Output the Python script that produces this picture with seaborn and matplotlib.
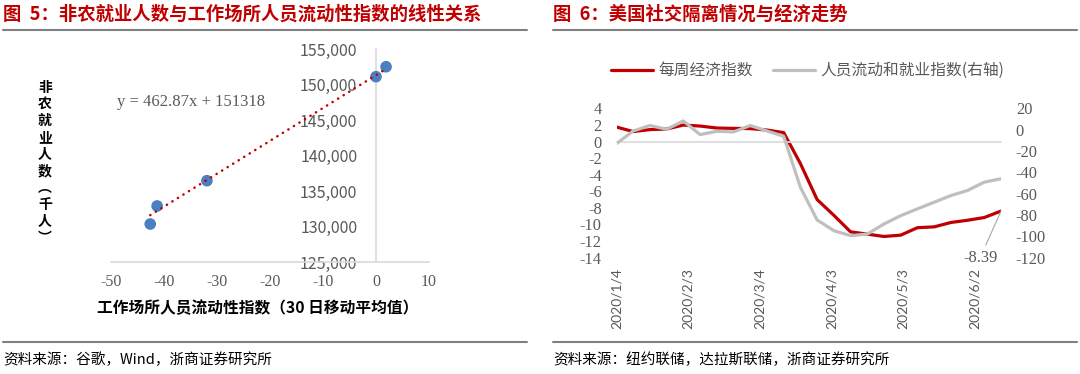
import numpy as np
import pandas as pd
import matplotlib
matplotlib.use("Agg")
import matplotlib.pyplot as plt
import matplotlib.dates as mdates
from matplotlib.lines import Line2D
import seaborn as sns

# ---------------- data ----------------
# Left chart: workplace mobility index (30d MA) vs nonfarm payrolls (thousand)
MOBILITY_X = [1.9, 0.0, -42.6, -41.3, -31.9]
PAYROLLS_Y = [152500, 151100, 130350, 132890, 136450]
TREND_SLOPE = 462.87
TREND_INTERCEPT = 151318
X_TICKS = [-50, -40, -30, -20, -10, 0, 10]
Y_TICKS = [125000, 130000, 135000, 140000, 145000, 150000, 155000]

# Right chart: weekly economic index vs mobility & employment index
DATES = ["2020-01-04", "2020-01-11", "2020-01-18", "2020-01-25", "2020-02-01",
         "2020-02-08", "2020-02-15", "2020-02-22", "2020-02-29", "2020-03-07",
         "2020-03-14", "2020-03-21", "2020-03-28", "2020-04-04", "2020-04-11",
         "2020-04-18", "2020-04-25", "2020-05-02", "2020-05-09", "2020-05-16",
         "2020-05-23", "2020-05-30", "2020-06-06", "2020-06-13"]
WEI = [1.76, 1.21, 1.45, 1.52, 2.0, 1.88, 1.64, 1.6, 1.57, 1.4, 1.09, -2.65,
       -7.0, -8.9, -10.9, -11.18, -11.46, -11.3, -10.4, -10.3, -9.77, -9.5,
       -9.17, -8.39]
MOBILITY_EMP = [-13.0, -1.1, 4.0, 0.5, 8.3, -4.5, -1.4, -2.0, 4.0, -1.1, -6.1,
                -54.0, -84.7, -94.8, -99.5, -98.0, -88.5, -80.7, -74.3, -68.1,
                -61.8, -57.0, -49.2, -46.0]
DATE_TICKS = ["2020-01-04", "2020-02-03", "2020-03-04", "2020-04-03",
              "2020-05-03", "2020-06-02"]
DATE_TICK_LABELS = ["2020/1/4", "2020/2/3", "2020/3/4", "2020/4/3",
                    "2020/5/3", "2020/6/2"]
LEFT_TICKS = [4, 2, 0, -2, -4, -6, -8, -10, -12, -14]
RIGHT_TICKS = [20, 0, -20, -40, -60, -80, -100, -120]
LEGEND_LABELS = ["每周经济指数", "人员流动和就业指数(右轴)"]

TITLE_LEFT = "图  5：非农就业人数与工作场所人员流动性指数的线性关系"
TITLE_RIGHT = "图  6：美国社交隔离情况与经济走势"
SOURCE_LEFT = "资料来源：谷歌，Wind，浙商证券研究所"
SOURCE_RIGHT = "资料来源：纽约联储，达拉斯联储，浙商证券研究所"
YLABEL_LEFT = "非农就业人数︵千人︶"
XLABEL_LEFT = "工作场所人员流动性指数（30 日移动平均值）"

# ---------------- style ----------------
sns.set_theme(style="white")
plt.rcParams["font.family"] = ["Noto Sans CJK SC", "DejaVu Sans"]
plt.rcParams["axes.unicode_minus"] = False

RED = "#c00000"
GRAY_LINE = "#bfbfbf"
AXIS_GRAY = "#d9d9d9"
TXT_GRAY = "#595959"
SERIF = "Liberation Serif"
W, H = 1080, 374


def fx(px):
    return px / W


def fy(py):
    return 1 - py / H


fig = plt.figure(figsize=(W / 100, H / 100), dpi=100)
fig.patch.set_facecolor("white")

# titles and rules
for x0, x1, title in [(3, 527, TITLE_LEFT), (553, 1077, TITLE_RIGHT)]:
    fig.text(fx(x0), fy(14.5), title, ha="left", va="center", fontsize=13.2,
             weight="bold", color=RED)
    fig.add_artist(Line2D([fx(x0), fx(x1)], [fy(30), fy(30)], color="#808080", lw=1.5))
    fig.add_artist(Line2D([fx(x0), fx(x1)], [fy(342), fy(342)], color="#808080", lw=1.5))
fig.text(fx(3), fy(360), SOURCE_LEFT, ha="left", va="center", fontsize=10.5, color="black")
fig.text(fx(553), fy(360), SOURCE_RIGHT, ha="left", va="center", fontsize=10.5, color="black")

# ---------------- left chart ----------------
ax1 = fig.add_axes([fx(111), fy(262), (429 - 111) / W, (262 - 49) / H])
ax1.set_facecolor("white")
sns.scatterplot(x=MOBILITY_X, y=PAYROLLS_Y, ax=ax1, s=70, color="#4a7fc1",
                edgecolor="none", zorder=3)
xs = np.array([min(MOBILITY_X), max(MOBILITY_X)])
sns.lineplot(x=xs, y=TREND_SLOPE * xs + TREND_INTERCEPT, ax=ax1, color=RED,
             lw=1.8, linestyle=(0, (0.1, 2.5)), dash_capstyle="round", zorder=4)
ax1.set_xlim(-50, 10)
ax1.set_ylim(125000, 155000)
ax1.set_xticks(X_TICKS, labels=[str(v) for v in X_TICKS], fontfamily=SERIF)
ax1.set_yticks(Y_TICKS, labels=[f"{v:,}" for v in Y_TICKS], fontfamily=SERIF)
for s in ["top", "right"]:
    ax1.spines[s].set_visible(False)
ax1.spines["left"].set_position(("data", 0))
for s in ["left", "bottom"]:
    ax1.spines[s].set_color(AXIS_GRAY)
    ax1.spines[s].set_linewidth(1.2)
ax1.tick_params(axis="both", length=0, labelsize=11.5, labelcolor=TXT_GRAY)
ax1.tick_params(axis="y", pad=13.5)
ax1.tick_params(axis="x", pad=8.5)
ax1.text(-48.9, 147600, f"y = {TREND_SLOPE}x + {TREND_INTERCEPT}", fontfamily=SERIF,
         fontsize=12, color=TXT_GRAY, ha="left", va="center")
ax1.grid(False)

fig.text(fx(45), fy(163), "\n".join(list(YLABEL_LEFT)), ha="center", va="center",
         fontsize=10, weight="bold", color="black", linespacing=1.25)
fig.text(fx(258), fy(308), XLABEL_LEFT, ha="center", va="center", fontsize=11.3,
         weight="bold", color="black")

# ---------------- right chart ----------------
dates = pd.to_datetime(DATES)
ax2 = fig.add_axes([fx(616.5), fy(257.5), (1001 - 616.5) / W, (257.5 - 108.5) / H])
ax2.set_facecolor("none")
sns.lineplot(x=dates, y=WEI, ax=ax2, color=RED, lw=2.3, legend=False)
ax3 = ax2.twinx()
sns.lineplot(x=dates, y=MOBILITY_EMP, ax=ax3, color=GRAY_LINE, lw=2.3, legend=False)

ax2.set_xlim(dates[0], dates[-1])
ax2.set_ylim(-14, 4)
ax3.set_ylim(-120, 20)
ax2.set_yticks(LEFT_TICKS, labels=[str(v) for v in LEFT_TICKS], fontfamily=SERIF)
ax3.set_yticks(RIGHT_TICKS, labels=[str(v) for v in RIGHT_TICKS], fontfamily=SERIF)
ax2.set_xlabel("")
ax2.set_ylabel("")
ax3.set_ylabel("")
for a in (ax2, ax3):
    for s in ["top", "left", "right", "bottom"]:
        a.spines[s].set_visible(False)
    a.grid(False)
ax2.spines["bottom"].set_visible(True)
ax2.spines["bottom"].set_position(("data", 0))
ax2.spines["bottom"].set_color(AXIS_GRAY)
ax2.spines["bottom"].set_linewidth(1.2)

tick_nums = mdates.date2num(pd.to_datetime(DATE_TICKS))
ax2.set_xticks(tick_nums)
ax2.tick_params(axis="x", length=4, width=1.2, color=AXIS_GRAY, direction="out",
                labelbottom=False)
ax2.tick_params(axis="y", length=0, pad=10.7, labelsize=11.8, labelcolor=TXT_GRAY)
ax3.tick_params(axis="y", length=0, pad=10.7, labelsize=11.8, labelcolor=TXT_GRAY)

sec = ax2.secondary_xaxis("bottom")
sec.set_xticks(tick_nums, labels=DATE_TICK_LABELS, rotation=90, fontfamily="Lato")
sec.tick_params(length=0, pad=7.5, labelsize=10, labelcolor=TXT_GRAY)
for s in sec.spines.values():
    s.set_visible(False)

ax2.annotate(f"{WEI[-1]:.2f}", xy=(dates[-1], WEI[-1]), xytext=(-15, -33.5),
             textcoords="offset points", ha="center", va="center", fontfamily=SERIF,
             fontsize=11.8, color=TXT_GRAY, annotation_clip=False,
             arrowprops=dict(arrowstyle="-", color="#a6a6a6", lw=0.8,
                             shrinkA=1, shrinkB=0))

handles = [Line2D([], [], color=RED, lw=2.3), Line2D([], [], color=GRAY_LINE, lw=2.3)]
leg = fig.legend(handles, LEGEND_LABELS, loc="center left",
                 bbox_to_anchor=(fx(611), fy(70.7)), ncol=2, frameon=False,
                 handlelength=2.7, handletextpad=0.3, columnspacing=1.3,
                 borderpad=0, borderaxespad=0, prop={"size": 11.3})
for t in leg.get_texts():
    t.set_color(TXT_GRAY)

fig.savefig("out.png", dpi=100, facecolor="white")
